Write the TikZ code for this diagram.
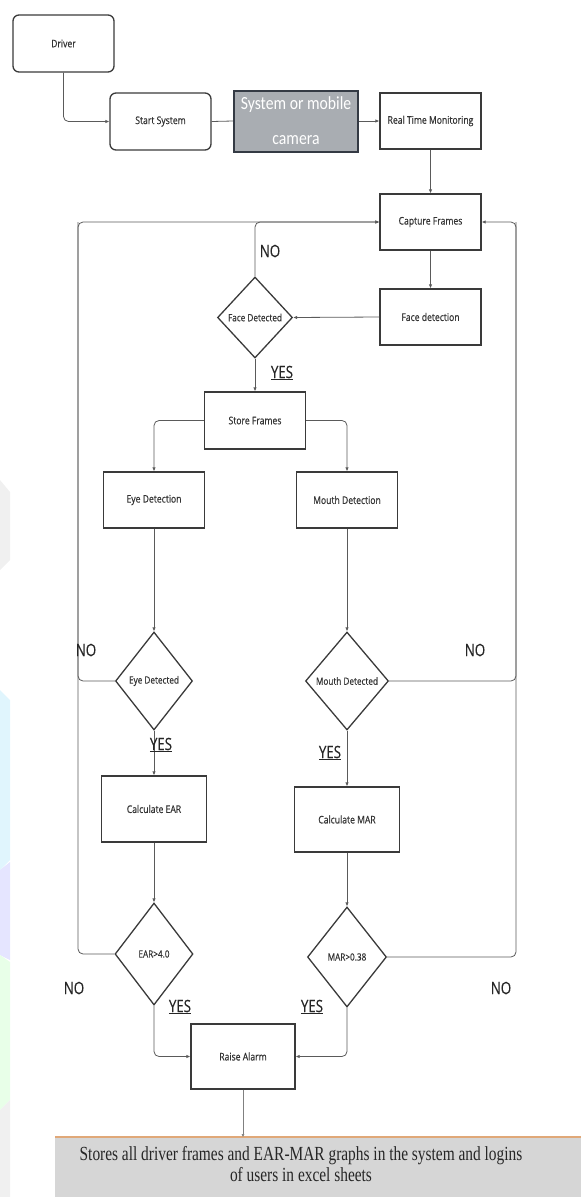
\documentclass[tikz,border=0pt]{standalone}
\usepackage{fontspec}
\setmainfont{Open Sans}
\newfontfamily\boxfont[FakeStretch=0.82, FakeBold=0.6]{Open Sans}
\newfontfamily\labfont[FakeStretch=0.78, FakeBold=0.3]{Open Sans}
\newfontfamily\camfont[FakeStretch=0.85]{Carlito}
\newfontfamily\barfont[FakeStretch=0.77]{Liberation Serif}
\usetikzlibrary{positioning, arrows.meta, shapes.geometric}

\definecolor{edge}{HTML}{3A3A3A}
\definecolor{wire}{HTML}{5A5A5A}
\definecolor{camfill}{HTML}{A9ADB2}
\definecolor{camedge}{HTML}{343A44}
\definecolor{barfill}{HTML}{D6D6D6}
\definecolor{barline}{HTML}{E0A878}

\begin{document}
\begin{tikzpicture}[
    x=1pt, y=-1pt,
    block/.style={rectangle, draw=edge, line width=1.3pt, minimum width=101pt,
                  minimum height=56pt, inner sep=0pt, font=\boxfont\fontsize{10.5}{12}\selectfont, text=black!80},
    rblock/.style={block, rounded corners=6pt},
    decision/.style={diamond, draw=edge, line width=1.3pt, inner sep=0pt, aspect=0.8,
                     font=\boxfont\fontsize{10}{12}\selectfont, text=black!80},
    arrow/.style={-{Latex[length=4pt, width=3.5pt]}, line width=0.8pt, draw=wire, rounded corners=5pt},
    wire/.style={line width=0.8pt, draw=wire, rounded corners=5pt},
    label/.style={font=\labfont\fontsize{17}{18}\selectfont, text=black!85}
]
    % frame of the picture
    \useasboundingbox (0,0) rectangle (581,1197);

    % faint shapes at the left edge
    \fill[gray!12] (0,480) -- (10,492) -- (10,560) -- (0,570) -- cycle;
    \fill[cyan!12] (0,690) -- (10,700) -- (10,860) -- (0,870) -- cycle;
    \fill[blue!10] (0,870) -- (10,862) -- (10,960) -- (0,955) -- cycle;
    \fill[green!9] (0,955) -- (10,962) -- (10,1100) -- (0,1110) -- cycle;
    \fill[gray!12] (0,1110) -- (10,1100) -- (10,1197) -- (0,1197) -- cycle;

    % top row
    \node[rblock, minimum height=57pt] (driver) at (63.5,43.5) {Driver};
    \node[rblock, minimum height=57pt] (start) at (160.5,121.5) {Start System};
    \node[rectangle, draw=camedge, line width=2pt, fill=camfill, minimum width=124pt,
          minimum height=61pt, inner sep=0pt, text=white, align=center,
          font=\camfont\fontsize{18.5}{35}\selectfont] (camera) at (296,121) {System or mobile\\camera};
    \node[block] (rtm) at (430.5,121) {Real Time Monitoring};

    % capture and face
    \node[block] (capture) at (430.5,222) {Capture Frames};
    \node[block] (facebox) at (430.5,317) {Face detection};
    \node[decision, minimum width=75pt, minimum height=81pt] (face) at (255,317.5) {\makebox[0pt]{Face Detected}};
    \node[block, minimum height=57pt] (store) at (255,420.5) {Store Frames};

    % eye and mouth branches
    \node[block] (eyebox) at (154,500) {Eye Detection};
    \node[block] (mouthbox) at (347,500) {Mouth Detection};
    \node[decision, minimum width=77pt, minimum height=98pt] (eye) at (154,681) {\makebox[0pt]{Eye Detected}};
    \node[decision, minimum width=83pt, minimum height=98pt] (mouth) at (347,681) {\makebox[0pt]{Mouth Detected}};
    \node[block, minimum width=105pt, minimum height=66pt] (ear) at (154,809) {Calculate EAR};
    \node[block, minimum width=105pt, minimum height=65pt] (mar) at (347,819.5) {Calculate MAR};
    \node[decision, minimum width=78pt, minimum height=102pt] (eartest) at (154,954) {\makebox[0pt]{EAR>4.0}};
    \node[decision, minimum width=79pt, minimum height=100pt] (martest) at (347,957) {\makebox[0pt]{MAR>0.38}};

    % alarm and storage bar
    \node[block, minimum width=104pt, minimum height=65pt] (alarm) at (243,1056.5) {Raise Alarm};
    \fill[barfill] (55,1137) rectangle (581,1197);
    \draw[barline, line width=1.8pt] (55,1137) -- (581,1137);
    \coordinate (bar) at (243,1137);
    \node[font=\barfont\fontsize{20}{21.5}\selectfont, align=center, text=black!85] (store text) at (301,1164)
        {Stores all driver frames and EAR-MAR graphs in the system and logins\\of users in excel sheets};

    % loop corners
    \coordinate (loopL) at (78,222);
    \coordinate (loopR) at (516,222);

    % forward path
    \draw[arrow] (driver.south) |- (start.west);
    \draw[wire] (start.east) -- (camera.west);
    \draw[arrow] (camera.east) -- (rtm.west);
    \draw[arrow] (rtm.south) -- (capture.north);
    \draw[arrow] (capture.south) -- (facebox.north);
    \draw[arrow] (facebox.west) -- (face.east);
    \draw[arrow] (face.south) -- (store.north);
    \draw[arrow] (store.west) -| (eyebox.north);
    \draw[arrow] (store.east) -| (mouthbox.north);
    \draw[arrow] (eyebox.south) -- (eye.north);
    \draw[arrow] (mouthbox.south) -- (mouth.north);
    \draw[arrow] (eye.south) -- (ear.north);
    \draw[arrow] (mouth.south) -- (mar.north);
    \draw[arrow] (ear.south) -- (eartest.north);
    \draw[arrow] (mar.south) -- (martest.north);
    \draw[arrow] (eartest.south) |- (alarm.west);
    \draw[arrow] (martest.south) |- (alarm.east);
    \draw[-{Latex[length=3pt, width=3pt]}, line width=0.5pt, draw=gray] (alarm.south) -- (bar);

    % feedback loops
    \draw[arrow] (face.north) |- (capture.west);
    \draw[arrow] (eartest.west) -| (loopL) -- (capture.west);
    \draw[wire] (eye.west) -| (loopL);
    \draw[arrow] (martest.east) -| (loopR) -- (capture.east);
    \draw[wire] (mouth.east) -| (loopR);

    % branch labels
    \node[label] (face no) at (270,251) {NO};
    \node[label] (face yes) at (282,373) {\underline{YES}};
    \node[label] (eye no) at (86,650) {NO};
    \node[label] (mouth no) at (475,650) {NO};
    \node[label] (eye yes) at (161,745) {\underline{YES}};
    \node[label] (mouth yes) at (330,753) {\underline{YES}};
    \node[label] (ear no) at (74,988) {NO};
    \node[label] (mar no) at (501,988) {NO};
    \node[label] (ear yes) at (180,1007) {\underline{YES}};
    \node[label] (mar yes) at (312,1007) {\underline{YES}};

\end{tikzpicture}
\end{document}
